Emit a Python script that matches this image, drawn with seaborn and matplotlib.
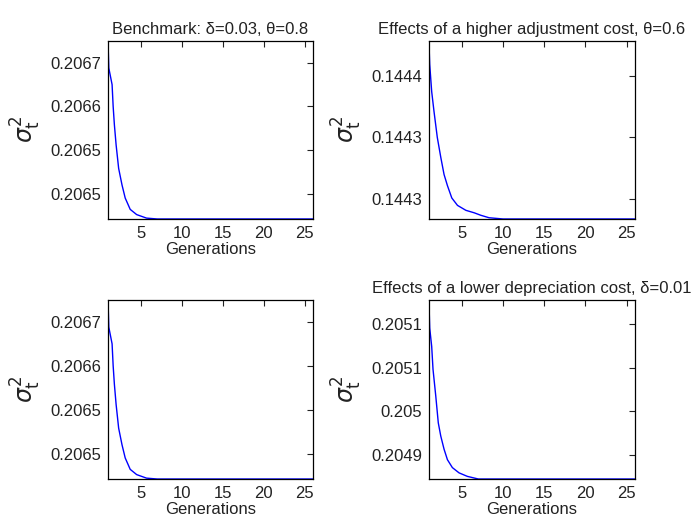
import matplotlib
matplotlib.use("Agg")
import matplotlib.pyplot as plt
import seaborn as sns

# Benchmark panel (also repeated bottom-left)
gen_bench = [1.0, 1.1, 1.5, 1.63, 1.78, 1.99, 2.3, 2.71, 3.1, 3.71, 4.5, 5.7, 7.0, 10.0, 26.0]
var_bench = [0.206675, 0.206644, 0.206625, 0.206600, 0.206579, 0.206556, 0.206529,
             0.206510, 0.206495, 0.206482, 0.206476, 0.206472, 0.206471, 0.206471, 0.206471]
ticks_bench = [0.20650, 0.20655, 0.20660, 0.20665]
labels_bench = ["0.2065", "0.2065", "0.2066", "0.2067"]

# Higher adjustment cost, theta=0.6
gen_adj = [1.0, 1.1, 1.34, 1.62, 2.02, 2.44, 2.84, 3.25, 3.78, 4.47, 5.49, 6.5, 7.3, 8.3, 10.0, 26.0]
var_adj = [0.144378, 0.144359, 0.144337, 0.144321, 0.144300, 0.144284, 0.144270, 0.144261,
           0.144251, 0.144245, 0.144241, 0.144239, 0.144237, 0.144235, 0.144234, 0.144234]
ticks_adj = [0.14425, 0.14430, 0.14435]
labels_adj = ["0.1443", "0.1443", "0.1444"]

# Lower depreciation cost, delta=0.01
gen_dep = [1.0, 1.1, 1.34, 1.5, 1.83, 2.14, 2.44, 2.84, 3.25, 3.85, 4.66, 5.67, 7.0, 10.0, 26.0]
var_dep = [0.205127, 0.205095, 0.205074, 0.205048, 0.205018, 0.204987, 0.204972, 0.204957,
           0.204945, 0.204936, 0.204930, 0.204926, 0.204923, 0.204923, 0.204923]
ticks_dep = [0.20495, 0.20500, 0.20505, 0.20510]
labels_dep = ["0.2049", "0.205", "0.2051", "0.2051"]

panels = [
    (gen_bench, var_bench, ticks_bench, labels_bench, "Benchmark: δ=0.03, θ=0.8"),
    (gen_adj, var_adj, ticks_adj, labels_adj, "Effects of a higher adjustment cost, θ=0.6"),
    (gen_bench, var_bench, ticks_bench, labels_bench, ""),
    (gen_dep, var_dep, ticks_dep, labels_dep, "Effects of a lower depreciation cost, δ=0.01"),
]

sns.set_style("white")
plt.rcParams["font.family"] = ["Liberation Sans", "DejaVu Sans"]
plt.rcParams["mathtext.fontset"] = "dejavusans"

fig = plt.figure(figsize=(6.94, 5.25), dpi=100)
positions = [
    [0.1556, 0.5829, 0.2954, 0.339],
    [0.618, 0.5829, 0.2968, 0.339],
    [0.1556, 0.0876, 0.2954, 0.341],
    [0.618, 0.0876, 0.2968, 0.341],
]

for pos, (gx, gy, yt, yl, title) in zip(positions, panels):
    ax = fig.add_axes(pos)
    sns.lineplot(x=gx, y=gy, ax=ax, color="blue", lw=1)
    ax.set_xlim(1, 26)
    ax.set_ylim(min(gy), max(gy))
    ax.set_xticks([5, 10, 15, 20, 25])
    ax.set_yticks(yt)
    ax.set_yticklabels(yl)
    ax.tick_params(direction="in", top=True, right=True, length=4, width=0.8,
                   labelsize=12, colors="#222222", pad=5)
    for s in ax.spines.values():
        s.set_color("black")
        s.set_linewidth(0.9)
    ax.set_xlabel("Generations", fontsize=12, labelpad=1, color="#222222")
    ax.set_ylabel(r"$\sigma_\mathrm{t}^2$", fontsize=17, labelpad=5, rotation=90, color="#222222")
    if title:
        ax.set_title(title, fontsize=12, pad=5, color="#222222")

fig.savefig("out.png", dpi=100)
